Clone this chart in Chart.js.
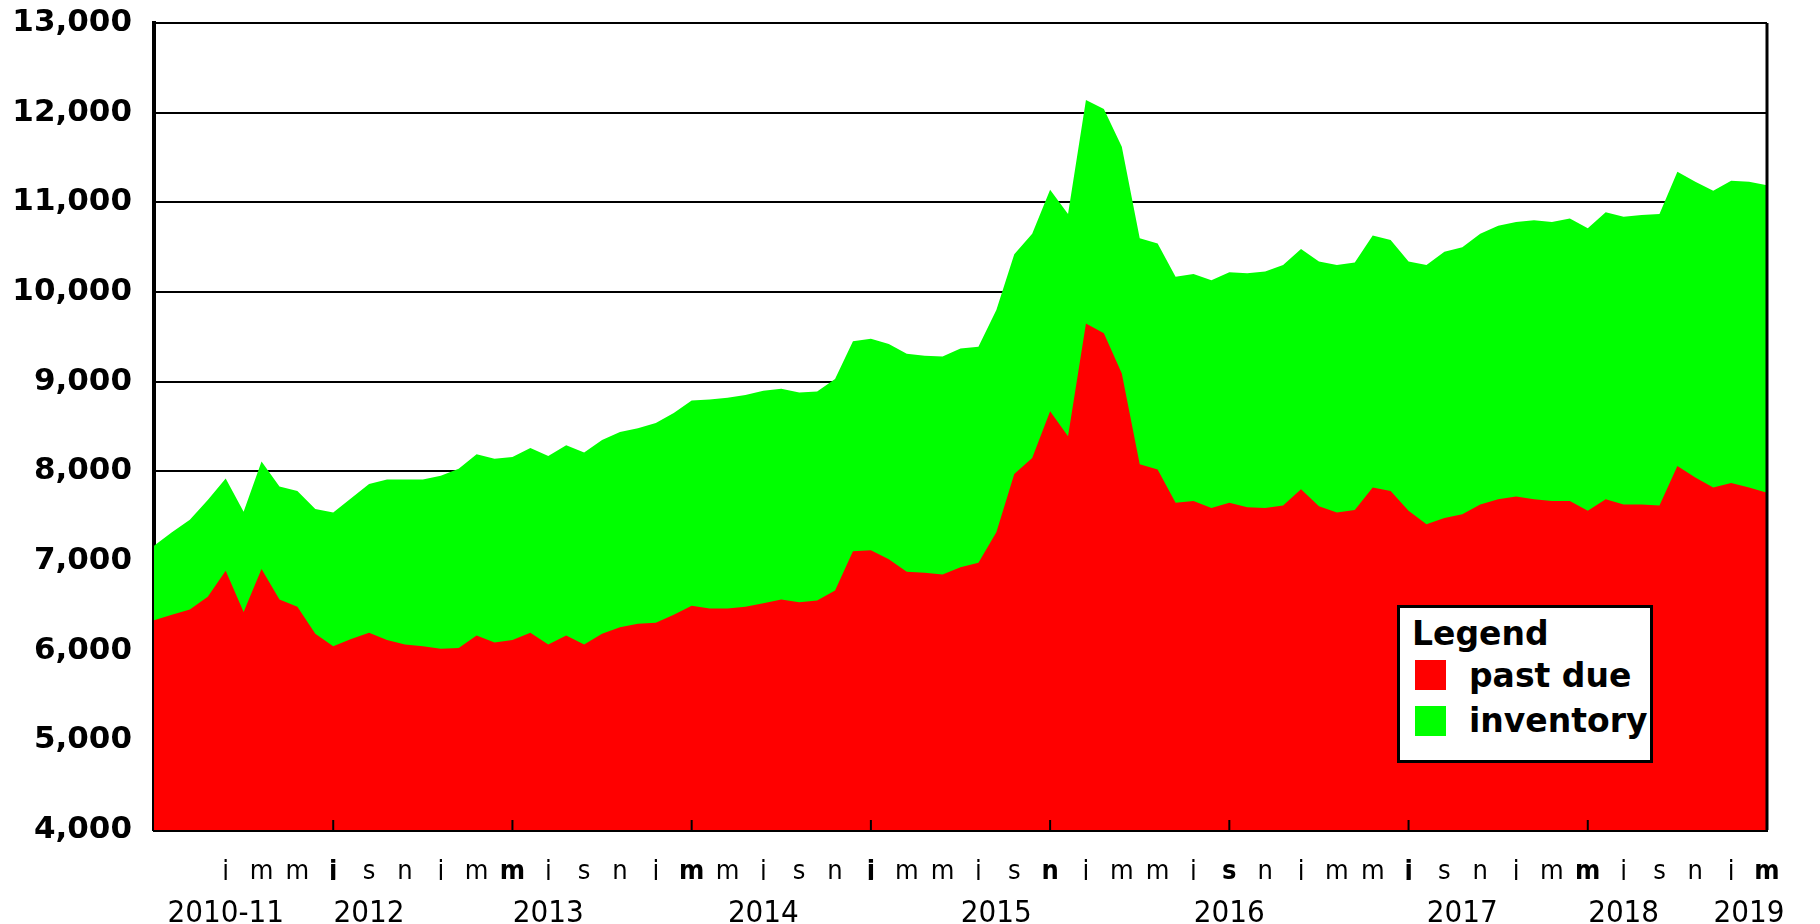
<!DOCTYPE html>
<html>
<head>
<meta charset="utf-8">
<script src="https://cdn.jsdelivr.net/npm/chart.js@4.4.1/dist/chart.umd.min.js"></script>
<style>
  body { margin: 0; background: #fff; }
  #wrap { position: relative; width: 1820px; height: 924px; }
  #legendBox { position: absolute; left: 1397px; top: 605px; width: 256px; height: 158px; box-sizing: border-box;
    border: 3px solid #000; background: #fff; color: #000;
    font-family: "DejaVu Sans", sans-serif; font-weight: bold; font-size: 33px; line-height: 33px; }
  #legendBox span { position: absolute; white-space: nowrap; }
  #legendBox i { position: absolute; width: 31px; height: 30px; }
</style>
</head>
<body>
<div id="wrap">
  <canvas id="id-chartPastDue"></canvas>
  <div id="legendBox">
    <span style="left:12px;top:9px">Legend</span>
    <i style="left:15px;top:52px;background:#ff0000"></i>
    <span style="left:69px;top:51px">past due</span>
    <i style="left:15px;top:98px;background:#00ff00"></i>
    <span style="left:69px;top:96px">inventory</span>
  </div>
</div>
<script>
// monthly values
var pastDue = [
  6340, 6400, 6460, 6600, 6890, 6430, 6910, 6570, 6490, 6190,
  6050, 6130, 6200, 6120, 6070, 6050, 6020, 6030, 6170, 6090,
  6120, 6200, 6070, 6170, 6070, 6190, 6260, 6300, 6310, 6400,
  6500, 6470, 6470, 6490, 6530, 6570, 6540, 6560, 6670, 7110,
  7120, 7020, 6880, 6870, 6850, 6930, 6980, 7320, 7970, 8150,
  8670, 8390, 9650, 9540, 9090, 8080, 8020, 7650, 7670, 7590,
  7650, 7600, 7590, 7620, 7800, 7610, 7540, 7570, 7820, 7780,
  7560, 7410, 7480, 7520, 7630, 7690, 7720, 7690, 7670, 7670,
  7560, 7690, 7630, 7630, 7620, 8060, 7930, 7820, 7870, 7820,
  7760
];
var inventory = [
  7170, 7320, 7460, 7680, 7920, 7550, 8110, 7830, 7780, 7580,
  7540, 7700, 7860, 7910, 7910, 7910, 7950, 8030, 8190, 8140,
  8160, 8260, 8170, 8290, 8210, 8350, 8440, 8480, 8540, 8650,
  8790, 8800, 8820, 8850, 8900, 8920, 8880, 8890, 9030, 9450,
  9480, 9420, 9310, 9290, 9280, 9370, 9390, 9800, 10420, 10650,
  11140, 10870, 12140, 12040, 11620, 10600, 10540, 10170, 10200, 10130,
  10220, 10210, 10230, 10300, 10480, 10340, 10300, 10330, 10630, 10580,
  10340, 10300, 10450, 10500, 10650, 10740, 10780, 10800, 10780, 10820,
  10710, 10890, 10840, 10860, 10870, 11340, 11230, 11130, 11240, 11230,
  11190
];
// tick labels under each month
var monthTicks = [
  '', '', '', '',
  'j', '', 'm', '', 'm', '', 'j', '', 's', '', 'n', '',
  'j', '', 'm', '', 'm', '', 'j', '', 's', '', 'n', '',
  'j', '', 'm', '', 'm', '', 'j', '', 's', '', 'n', '',
  'j', '', 'm', '', 'm', '', 'j', '', 's', '', 'n', '',
  'j', '', 'm', '', 'm', '', 'j', '', 's', '', 'n', '',
  'j', '', 'm', '', 'm', '', 'j', '', 's', '', 'n', '',
  'j', '', 'm', '', 'm', '', 'j', '', 's', '', 'n', '',
  'j', '', 'm'
];
var yearTicks = {4: '2010-11', 12: '2012', 22: '2013', 34: '2014', 47: '2015', 60: '2016', 73: '2017', 82: '2018', 89: '2019'};
var categories = pastDue.map(function(v, i) { return i; });

var axisFont = '"DejaVu Sans Condensed", "Liberation Sans Narrow", sans-serif';

// right frame edge + short inward ticks every 10 months
var frameAndTicks = {
  id: 'frameAndTicks',
  afterDraw: function(chart) {
    var ctx = chart.ctx, area = chart.chartArea, xs = chart.scales.x;
    ctx.save();
    ctx.strokeStyle = '#000';
    ctx.lineWidth = 3;
    ctx.beginPath();
    ctx.moveTo(area.right, area.top);
    ctx.lineTo(area.right, area.bottom);
    ctx.stroke();
    ctx.lineWidth = 2;
    categories.forEach(function(c, i) {
      if (i > 0 && i % 10 === 0) {
        var px = xs.getPixelForValue(i);
        ctx.beginPath();
        ctx.moveTo(px, area.bottom);
        ctx.lineTo(px, area.bottom - 10);
        ctx.stroke();
      }
    });
    ctx.restore();
  }
};

new Chart("id-chartPastDue", {
  type: "line",
  data: {
    labels: categories,
    datasets: [{
      label: "past due",
      data: pastDue,
      backgroundColor: "#ff0000",
      borderWidth: 0,
      pointRadius: 0,
      fill: "start"
    }, {
      label: "inventory",
      data: inventory,
      backgroundColor: "#00ff00",
      borderWidth: 0,
      pointRadius: 0,
      fill: "start"
    }]
  },
  options: {
    responsive: true,
    maintainAspectRatio: false,
    animation: false,
    layout: {padding: {top: 23, right: 53, bottom: 0, left: 0}},
    plugins: {
      legend: {display: false},
      tooltip: {enabled: false}
    },
    scales: {
      y: {
        z: 1,
        min: 4000,
        max: 13000,
        afterFit: function(scale) {
          scale.width = 154;
          scale.paddingTop = 0;
          scale.paddingBottom = 0;
        },
        grid: {color: "#000", lineWidth: 2, drawTicks: false},
        border: {color: "#000", width: 4},
        ticks: {
          stepSize: 1000,
          padding: 22,
          color: "#000",
          font: {family: '"DejaVu Sans", sans-serif', size: 31, weight: "bold"},
          callback: function(v) { return v.toLocaleString("en-US"); }
        }
      },
      x: {
        z: 1,
        afterFit: function(scale) { scale.height = 50; },
        grid: {display: false},
        border: {display: true, color: "#000", width: 3},
        ticks: {
          autoSkip: false,
          maxRotation: 0,
          padding: 18,
          color: "#000",
          font: function(c) {
            return {family: axisFont, size: 27, lineHeight: 1.2, weight: c.index % 10 === 0 ? "bold" : "normal"};
          },
          callback: function(v, i) { return monthTicks[i]; }
        }
      },
      xYear: {
        type: "category",
        position: "bottom",
        afterFit: function(scale) { scale.height = 44; },
        grid: {display: false},
        border: {display: false},
        ticks: {
          autoSkip: false,
          maxRotation: 0,
          padding: 7,
          color: "#000",
          font: {family: axisFont, size: 31, lineHeight: 1.2},
          callback: function(v, i) { return yearTicks[i] || ""; }
        }
      }
    }
  },
  plugins: [frameAndTicks]
});
</script>
</body>
</html>
